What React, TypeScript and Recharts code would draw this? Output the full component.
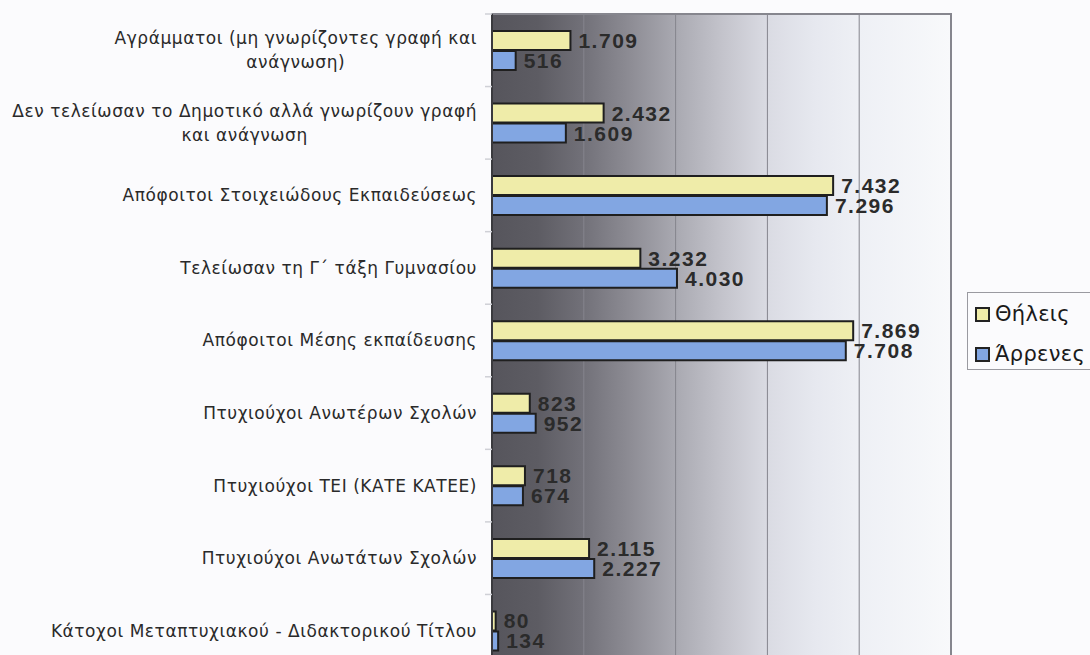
import React from "react";
import { BarChart, Bar, XAxis, YAxis, CartesianGrid, LabelList, ReferenceArea } from "recharts";

const categories: string[] = [
  "Αγράμματοι (μη γνωρίζοντες γραφή και\nανάγνωση)",
  "Δεν τελείωσαν το Δημοτικό αλλά γνωρίζουν γραφή\nκαι ανάγνωση",
  "Απόφοιτοι Στοιχειώδους Εκπαιδεύσεως",
  "Τελείωσαν τη Γ΄ τάξη Γυμνασίου",
  "Απόφοιτοι Μέσης εκπαίδευσης",
  "Πτυχιούχοι Ανωτέρων Σχολών",
  "Πτυχιούχοι ΤΕΙ (ΚΑΤΕ ΚΑΤΕΕ)",
  "Πτυχιούχοι Ανωτάτων Σχολών",
  "Κάτοχοι Μεταπτυχιακού - Διδακτορικού Τίτλου",
];
const female: number[] = [1709, 2432, 7432, 3232, 7869, 823, 718, 2115, 80];
const male: number[] = [516, 1609, 7296, 4030, 7708, 952, 674, 2227, 134];
const seriesNames = ["Θήλεις", "Άρρενες"];
const xTicks: number[] = [0, 2000, 4000, 6000, 8000, 10000];

const data = categories.map((name, i) => ({ name, f: female[i], m: male[i] }));

const YELLOW = "#efeca9";
const BLUE = "#82a6e2";
const LABEL_FONT = "'DejaVu Sans', sans-serif";
const LABEL_SIZE = 17;
const LETTER_SP = 0.55;

let ctx: CanvasRenderingContext2D | null = null;
const measure = (text: string) => {
  if (!ctx) ctx = document.createElement("canvas").getContext("2d");
  if (!ctx) return text.length * 10;
  ctx.font = `${LABEL_SIZE}px ${LABEL_FONT}`;
  return ctx.measureText(text).width + text.length * LETTER_SP;
};

const fmt = (v: any) => String(v).replace(/\B(?=(\d{3})+(?!\d))/g, ".");

const CategoryTick = (props: any) => {
  const { x, y, payload } = props;
  const off = payload && typeof payload.offset === "number" ? payload.offset : 36.3;
  const lines: string[] = String(payload.value).split("\n");
  const common = {
    fontFamily: LABEL_FONT,
    fontSize: LABEL_SIZE,
    letterSpacing: LETTER_SP,
    fill: "#2a2a2a",
  };
  return (
    <g>
      <line x1={x + 8} x2={x + 15} y1={y - off} y2={y - off} stroke="#cfd0d6" strokeWidth={1.5} />
      {lines.length === 1 ? (
        <text x={x} y={y} dy="0.35em" textAnchor="end" {...common}>
          {lines[0]}
        </text>
      ) : (
        <>
          <text x={x} y={y - 12} dy="0.35em" textAnchor="end" {...common}>
            {lines[0]}
          </text>
          <text x={x - measure(lines[0]) / 2} y={y + 12} dy="0.35em" textAnchor="middle" {...common}>
            {lines[1]}
          </text>
        </>
      )}
    </g>
  );
};

const legendItem = (color: string, label: string) => (
  <div style={{ display: "flex", alignItems: "center", height: 40 }}>
    <div
      style={{
        width: 11,
        height: 11,
        background: color,
        border: "2px solid #222",
        marginLeft: 7,
        marginRight: 5,
      }}
    />
    <span style={{ fontFamily: LABEL_FONT, fontSize: 21, color: "#1a1a1a", letterSpacing: 0.3 }}>{label}</span>
  </div>
);

const valueLabelProps = {
  position: "right" as const,
  offset: 8,
  formatter: fmt,
  fill: "#2b2b2b",
  fontSize: 21,
  fontWeight: "bold",
  letterSpacing: 1.5,
  fontFamily: "'Liberation Sans', Arial, sans-serif",
};

export default function App() {
  return (
    <div
      style={{
        position: "absolute",
        left: 0,
        top: 0,
        width: 1090,
        height: 655,
        overflow: "hidden",
        background: "#fbfbfd",
      }}
    >
      <BarChart
        width={1090}
        height={668}
        data={data}
        layout="vertical"
        margin={{ top: 14, right: 139, bottom: 1, left: 0 }}
        barGap={1}
        barSize={19}
      >
        <defs>
          <linearGradient id="plotBg" x1="0" y1="0" x2="1" y2="0">
            <stop offset="0%" stopColor="#56555c" />
            <stop offset="10%" stopColor="#5d5c63" />
            <stop offset="20%" stopColor="#727179" />
            <stop offset="30%" stopColor="#8d8c94" />
            <stop offset="40%" stopColor="#a9a9b1" />
            <stop offset="50%" stopColor="#c3c3cb" />
            <stop offset="60%" stopColor="#dadbe3" />
            <stop offset="70%" stopColor="#e6e8ef" />
            <stop offset="80%" stopColor="#eef0f5" />
            <stop offset="100%" stopColor="#f8f9fb" />
          </linearGradient>
        </defs>
        <CartesianGrid
          horizontal={false}
          stroke="#85858d"
          strokeWidth={1}
          fill="url(#plotBg)"
          fillOpacity={1}
        />
        <XAxis type="number" domain={[0, 10000]} ticks={xTicks} hide />
        <YAxis
          type="category"
          dataKey="name"
          width={492}
          interval={0}
          tickSize={0}
          tickMargin={15}
          axisLine={{ stroke: "#3a3a3e", strokeWidth: 2 }}
          tick={<CategoryTick />}
        />
        <ReferenceArea
          x1={0}
          x2={10000}
          fill="none"
          fillOpacity={0}
          stroke="#86868e"
          strokeWidth={2}
          ifOverflow="visible"
        />
        <Bar dataKey="f" name={seriesNames[0]} fill={YELLOW} stroke="#1f1f1f" strokeWidth={2} isAnimationActive={false}>
          <LabelList dataKey="f" {...valueLabelProps} />
        </Bar>
        <Bar dataKey="m" name={seriesNames[1]} fill={BLUE} stroke="#1f1f1f" strokeWidth={2} isAnimationActive={false}>
          <LabelList dataKey="m" {...valueLabelProps} />
        </Bar>
      </BarChart>
      <div
        style={{
          position: "absolute",
          left: 967,
          top: 292,
          width: 140,
          height: 78,
          border: "1px solid #9a9aa0",
          background: "#fbfbfd",
          boxSizing: "border-box",
          paddingTop: 1,
        }}
      >
        {legendItem(YELLOW, seriesNames[0])}
        {legendItem(BLUE, seriesNames[1])}
      </div>
    </div>
  );
}
